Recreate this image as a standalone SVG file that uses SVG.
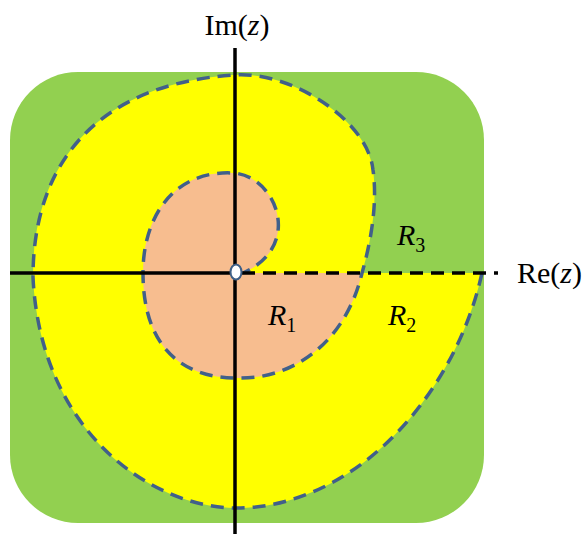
<svg xmlns="http://www.w3.org/2000/svg" width="587" height="534" viewBox="0 0 587 534">
<style>
.lbl{font-family:"Liberation Serif","Times New Roman",serif;font-size:30px;fill:#000}
.it{font-style:italic}
.sub{font-size:20px}
.bd{fill:none;stroke:#41608a;stroke-width:3.5;stroke-dasharray:13 8}
.ax{stroke:#000;stroke-width:3.5;fill:none}
</style>
<g id="region-R3">
<rect x="10" y="72" width="474" height="451" rx="68" ry="68" fill="#92d050"/>
</g>
<g id="region-R2">
<path d="M482,273 C465,350 420,420 363,463 C320,495 275,508 237,508 C150,508 40,430 33,277 C33,170 90,85 233,75 C290,70 368,120 373,170 C378,205 370,245 362,273 Z" fill="#ffff00"/>
</g>
<g id="region-R1">
<path d="M362,273 C345,345 290,380 237,378 C180,378 143,345 143,273 C143,215 175,170 233,173 C275,175 305,245 243,273 Z" fill="#f7bd8f"/>
</g>
<g id="boundary">
<path class="bd" d="M482,273 C465,350 420,420 363,463 C320,495 275,508 237,508 C150,508 40,430 33,277 C33,170 90,85 233,75 C290,70 368,120 373,170 C378,205 370,245 362,273 C345,345 290,380 237,378 C180,378 143,345 143,273 C143,215 175,170 233,173 C275,175 305,245 243,273"/>
</g>
<g id="connectors">
<line class="ax" x1="235" y1="48" x2="235" y2="534"/>
<line class="ax" x1="10" y1="273" x2="236" y2="273"/>
<line class="ax" x1="242" y1="273" x2="498" y2="273" stroke-dasharray="13 8"/>
</g>
<g id="origin">
<ellipse cx="236" cy="272" rx="5.5" ry="7.5" fill="#fff" stroke="#3e5f86" stroke-width="2"/>
</g>
<g id="labels">
<text class="lbl" x="237" y="35" text-anchor="middle">Im(<tspan class="it">z</tspan>)</text>
<text class="lbl" x="517" y="283">Re(<tspan class="it">z</tspan>)</text>
<text class="lbl it" x="268" y="325">R<tspan class="sub" font-style="normal" dy="7">1</tspan></text>
<text class="lbl it" x="388" y="325">R<tspan class="sub" font-style="normal" dy="7">2</tspan></text>
<text class="lbl it" x="397" y="245">R<tspan class="sub" font-style="normal" dy="7">3</tspan></text>
</g>
</svg>
